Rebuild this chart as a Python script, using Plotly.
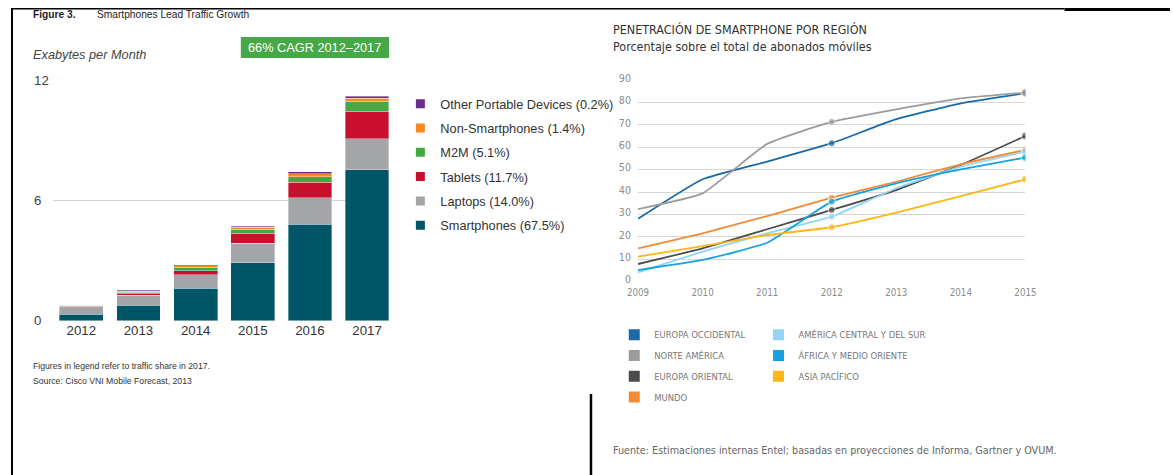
import plotly.graph_objects as go

W, H = 1173, 475
# the snapshot lands inside an 8px white border, so lay out in target pixels
INSET = 8
FS = 1.02  # font compensation for that shrink

# ---- left chart: mobile traffic (exabytes per month)
years_traffic = ["2012", "2013", "2014", "2015", "2016", "2017"]
smartphones = [0.32, 0.78, 1.62, 2.90, 4.82, 7.53]
laptops = [0.38, 0.49, 0.66, 0.95, 1.30, 1.54]
tablets = [0.03, 0.08, 0.22, 0.50, 0.78, 1.36]
m2m = [0.03, 0.08, 0.17, 0.22, 0.27, 0.50]
non_smartphones = [0.02, 0.05, 0.06, 0.08, 0.15, 0.15]
other_portable = [0.02, 0.05, 0.05, 0.05, 0.11, 0.12]
traffic_ticks = [0, 6, 12]

traffic_series = [
    ("Smartphones (67.5%)", smartphones, "#005567"),
    ("Laptops (14.0%)", laptops, "#a4a5a9"),
    ("Tablets (11.7%)", tablets, "#c8102e"),
    ("M2M (5.1%)", m2m, "#45a845"),
    ("Non-Smartphones (1.4%)", non_smartphones, "#f7891f"),
    ("Other Portable Devices (0.2%)", other_portable, "#6d2c91"),
]

# ---- right chart: smartphone penetration by region (%)
years_pen = [2009, 2010, 2011, 2012, 2013, 2014, 2015]
europa_occidental = [28.1, 45.7, 53.6, 61.8, 72.5, 79.6, 84.1]
norte_america = [32.4, 39.4, 61.5, 71.3, 76.9, 81.8, 84.4]
europa_oriental = [7.9, 14.9, 23.4, 32.0, 40.9, 52.1, 65.0]
mundo = [14.9, 21.6, 29.3, 37.5, 44.6, 52.4, 58.8]
america_central_sur = [4.2, 13.4, 21.6, 29.0, 41.7, 51.3, 58.0]
africa_medio_oriente = [5.2, 9.7, 17.4, 35.7, 43.9, 50.1, 55.4]
asia_pacifico = [11.2, 15.9, 20.8, 24.3, 30.8, 38.2, 45.7]
pen_ticks = list(range(0, 100, 10))

pen_series = [
    ("EUROPA OCCIDENTAL", europa_occidental, "#1a6aa6", "legend2"),
    ("NORTE AMÉRICA", norte_america, "#9c9c9e", "legend2"),
    ("EUROPA ORIENTAL", europa_oriental, "#4b4b4d", "legend2"),
    ("MUNDO", mundo, "#f58a35", "legend2"),
    ("AMÉRICA CENTRAL Y DEL SUR", america_central_sur, "#93d5f4", "legend3"),
    ("ÁFRICA Y MEDIO ORIENTE", africa_medio_oriente, "#14a2e4", "legend3"),
    ("ASIA PACÍFICO", asia_pacifico, "#fdb614", "legend3"),
]

SANS = "Liberation Sans, Arial, sans-serif"
NARROW = "Liberation Sans Narrow, DejaVu Sans Condensed, Arial Narrow, sans-serif"


# target pixel -> paper coordinate
def px(x):
    return (x - INSET) / (W - 2 * INSET)


def py(y):
    return 1 - (y - INSET) / (H - 2 * INSET)


def fs(size):
    return round(size * FS, 2)


fig = go.Figure()

for name, vals, color in traffic_series:
    fig.add_trace(
        go.Bar(
            x=years_traffic,
            y=vals,
            marker=dict(color=color, line=dict(color="rgba(255,255,255,0.6)", width=0.6)),
            showlegend=False,
            xaxis="x",
            yaxis="y",
        )
    )
# legend swatches for the bar chart (top to bottom)
for name, vals, color in reversed(traffic_series):
    fig.add_trace(
        go.Scatter(
            x=[None],
            y=[None],
            mode="markers",
            name=name,
            marker=dict(symbol="square", size=9, color=color),
            legendgroup=name,
            legend="legend",
            xaxis="x",
            yaxis="y",
        )
    )

marker_sizes = [0, 0, 0, 7, 0, 0, 8]
for name, vals, color, leg in pen_series:
    fig.add_trace(
        go.Scatter(
            x=years_pen,
            y=vals,
            mode="lines+markers",
            line=dict(color=color, width=1.8, shape="spline", smoothing=0.4),
            marker=dict(size=marker_sizes, color=color),
            showlegend=False,
            xaxis="x2",
            yaxis="y2",
        )
    )
for name, vals, color, leg in pen_series:
    fig.add_trace(
        go.Scatter(
            x=[None],
            y=[None],
            mode="markers",
            name=name,
            marker=dict(symbol="square", size=11, color=color),
            legendgroup=name,
            legend=leg,
            xaxis="x2",
            yaxis="y2",
        )
    )

fig.update_layout(
    width=W,
    height=H,
    margin=dict(l=0, r=0, t=0, b=0),
    paper_bgcolor="white",
    plot_bgcolor="white",
    barmode="stack",
    bargap=0.234,
    font=dict(family=SANS, color="#333"),
    xaxis=dict(
        domain=[px(50), px(388)],
        type="category",
        range=[-0.5, 5.385],
        showgrid=False,
        showline=False,
        ticks="",
        tickfont=dict(size=fs(13), color="#333"),
        anchor="y",
    ),
    yaxis=dict(
        domain=[py(320.7), py(80)],
        range=[0, 12],
        tickvals=traffic_ticks,
        ticktext=[str(t) + "\u00a0" * (2 * (2 - len(str(t)))) for t in traffic_ticks],
        ticklabelstandoff=3,
        showgrid=True,
        gridcolor="#d4d4d4",
        gridwidth=1,
        zeroline=False,
        showline=False,
        tickfont=dict(size=fs(13), color="#444"),
        anchor="x",
    ),
    xaxis2=dict(
        domain=[px(638.3), px(1027.7)],
        range=[2009, 2015],
        tickvals=years_pen,
        showgrid=False,
        showline=False,
        zeroline=False,
        ticks="",
        ticklabelstandoff=4,
        tickfont=dict(family=NARROW, size=fs(9.5), color="#8c8c8c"),
        anchor="y2",
    ),
    yaxis2=dict(
        domain=[py(281.7), py(80)],
        range=[0, 90],
        tickvals=pen_ticks,
        ticklabelstandoff=6,
        ticklabelshift=-2,
        showgrid=True,
        gridcolor="#d6d6d6",
        gridwidth=1,
        zeroline=False,
        showline=False,
        tickfont=dict(family=NARROW, size=fs(10.5), color="#8c8c8c"),
        anchor="x2",
    ),
    legend=dict(
        x=px(399.4),
        y=py(89),
        xanchor="left",
        yanchor="top",
        traceorder="grouped",
        tracegroupgap=4.7,
        font=dict(family=SANS, size=fs(12.5), color="#333"),
        bgcolor="rgba(0,0,0,0)",
    ),
    legend2=dict(
        x=px(614.4),
        y=py(320.2),
        xanchor="left",
        yanchor="top",
        traceorder="grouped",
        tracegroupgap=1.8,
        font=dict(family=NARROW, size=fs(9.2), color="#777"),
        bgcolor="rgba(0,0,0,0)",
    ),
    legend3=dict(
        x=px(759.4),
        y=py(320.2),
        xanchor="left",
        yanchor="top",
        traceorder="grouped",
        tracegroupgap=1.8,
        font=dict(family=NARROW, size=fs(9.2), color="#777"),
        bgcolor="rgba(0,0,0,0)",
    ),
)

# page frame lines (clamped to the drawable area)
frame = [
    dict(x0=9, y0=8, x1=9, y1=475, w=2),
    dict(x0=8, y0=8.8, x1=1067, y1=8.8, w=1.5),
    dict(x0=1067, y0=9.5, x1=1173, y1=9.5, w=3),
    dict(x0=591, y0=394, x1=591, y1=475, w=2.5),
]
for f in frame:
    fig.add_shape(
        type="line",
        xref="paper",
        yref="paper",
        x0=px(f["x0"]),
        x1=px(f["x1"]),
        y0=py(f["y0"]),
        y1=py(f["y1"]),
        line=dict(color="black", width=f["w"]),
    )

# CAGR badge
fig.add_shape(
    type="rect",
    xref="paper",
    yref="paper",
    x0=px(239),
    x1=px(388),
    y0=py(58),
    y1=py(37),
    fillcolor="#47a847",
    line=dict(width=0),
)

annotations = [
    dict(x=28, y=15, text="<b>Figure 3.</b>", size=10, font=SANS, color="#222"),
    dict(x=92, y=15, text="Smartphones Lead Traffic Growth", size=10, font=SANS, color="#222"),
    dict(x=28, y=54, text="<i>Exabytes per Month</i>", size=12.5, font=SANS, color="#444"),
    dict(x=313.5, y=47.5, text="66% CAGR 2012–2017", size=12.5, font=SANS, color="white", anchor="center"),
    dict(x=28, y=366, text="Figures in legend refer to traffic share in 2017.", size=8.5, font=SANS, color="#333"),
    dict(x=28, y=381, text="Source: Cisco VNI Mobile Forecast, 2013", size=8.5, font=SANS, color="#333"),
    dict(x=611, y=30, text="PENETRACIÓN DE SMARTPHONE POR REGIÓN", size=12.2, font=NARROW, color="#333"),
    dict(x=611, y=46, text="Porcentaje sobre el total de abonados móviles", size=12.2, font=NARROW, color="#333"),
    dict(
        x=611,
        y=450,
        text="Fuente: Estimaciones internas Entel; basadas en proyecciones de Informa, Gartner y OVUM.",
        size=10.5,
        font=NARROW,
        color="#666",
    ),
]
for a in annotations:
    fig.add_annotation(
        xref="paper",
        yref="paper",
        x=px(a["x"]),
        y=py(a["y"]),
        text=a["text"],
        showarrow=False,
        xanchor=a.get("anchor", "left"),
        yanchor="middle",
        font=dict(family=a["font"], size=fs(a["size"]), color=a["color"]),
    )

fig.write_html(
    "out.html",
    config={"displayModeBar": False},
    post_script="document.body.style.margin='0';document.body.style.overflow='hidden';",
)
